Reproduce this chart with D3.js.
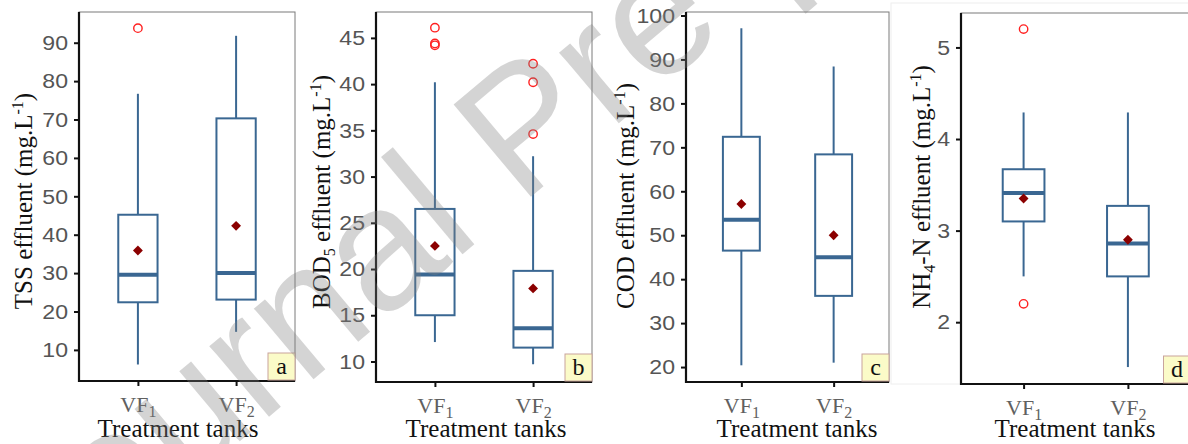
<!DOCTYPE html>
<html><head><meta charset="utf-8">
<script src="https://cdn.jsdelivr.net/npm/d3@7"></script>
<style>
html,body{margin:0;padding:0;background:#fff;}
svg{display:block;}
</style></head><body>
<svg id="chart" width="1188" height="444"></svg>
<script>
const tanks = ["VF1", "VF2"];

// box summaries per tank: [lower whisker, Q1, median, Q3, upper whisker]
const tssBox = [[6.2, 22.4, 29.6, 45.2, 76.7], [14.7, 23.1, 30.0, 70.3, 91.8]];
const tssMean = [35.9, 42.3];
const tssOutliers = [[93.8], []];
const tssTicks = [10, 20, 30, 40, 50, 60, 70, 80, 90];

const bodBox = [[12.1, 15.0, 19.4, 26.5, 40.2], [9.7, 11.5, 13.6, 19.8, 32.2]];
const bodMean = [22.5, 17.9];
const bodOutliers = [[46.1, 44.4, 44.2], [42.2, 40.2, 34.6]];
const bodTicks = [10, 15, 20, 25, 30, 35, 40, 45];

const codBox = [[20.4, 46.5, 53.5, 72.4, 97.1], [21.0, 36.2, 45.0, 68.4, 88.4]];
const codMean = [57.1, 50.0];
const codOutliers = [[], []];
const codTicks = [20, 30, 40, 50, 60, 70, 80, 90, 100];

const nh4Box = [[2.5, 3.1, 3.41, 3.67, 4.29], [1.51, 2.5, 2.86, 3.27, 4.29]];
const nh4Mean = [3.35, 2.9];
const nh4Outliers = [[5.2, 2.2], []];
const nh4Ticks = [2, 3, 4, 5];

const panelLetters = ["a", "b", "c", "d"];

// y-axis titles as runs of [text, style]
const yTitles = [
  [["TSS effluent (mg.L", "n"], ["-1", "sup"], [")", "n"]],
  [["BOD", "n"], ["5", "sub"], [" effluent (mg.L", "n"], ["-1", "sup"], [")", "n"]],
  [["COD effluent (mg.L", "n"], ["-1", "sup"], [")", "n"]],
  [["NH", "n"], ["4", "sub"], ["-N effluent (mg.L", "n"], ["-1", "sup"], [")", "n"]]
];
const xTitle = "Treatment tanks";

const panels = [
  {box: tssBox, mean: tssMean, out: tssOutliers, ticks: tssTicks, domain: [1.9, 98.0],
   left: 79, right: 295, top: 12, bottom: 381, titleX: 32, titleY: 201, xTitleX: 178},
  {box: bodBox, mean: bodMean, out: bodOutliers, ticks: bodTicks, domain: [7.78, 47.8],
   left: 376, right: 592, top: 12, bottom: 382, titleX: 330, titleY: 192, xTitleX: 486},
  {box: codBox, mean: codMean, out: codOutliers, ticks: codTicks, domain: [16.6, 100.8],
   left: 686, right: 889, top: 12, bottom: 382, titleX: 634, titleY: 196, xTitleX: 797},
  {box: nh4Box, mean: nh4Mean, out: nh4Outliers, ticks: nh4Ticks, domain: [1.325, 5.376],
   left: 961, right: 1190.5, top: 13, bottom: 384, titleX: 930, titleY: 187, xTitleX: 1075}
];

const BLUE = "#3a6792";
const SANS = "'Liberation Sans', Arial, sans-serif";
const SERIF = "'Liberation Serif', 'Times New Roman', serif";

const svg = d3.select("#chart");

// faint edge of the last tile
svg.append("rect").attr("x", 891).attr("y", 3).attr("width", 300).attr("height", 381)
  .attr("fill", "none").attr("stroke", "#eeeeee").attr("stroke-width", 1);

panels.forEach((p, i) => {
  const g = svg.append("g");
  const y = d3.scaleLinear().domain(p.domain).range([p.bottom, p.top]);
  const x = d3.scalePoint().domain(tanks).range([p.left, p.right]).padding(0.6);
  const step = x.step();
  const bw = step * 0.4;

  // panel frame (top/right)
  g.append("rect").attr("x", p.left).attr("y", p.top)
    .attr("width", p.right - p.left).attr("height", p.bottom - p.top)
    .attr("fill", "#fff").attr("stroke", "#7a7a7a").attr("stroke-width", 1);

  // whiskers, boxes, medians
  g.selectAll(".wh").data(p.box).join("g").each(function(b, k) {
    const cx = x(tanks[k]);
    const s = d3.select(this);
    s.append("line").attr("x1", cx).attr("x2", cx).attr("y1", y(b[3])).attr("y2", y(b[4]))
      .attr("stroke", BLUE).attr("stroke-width", 2);
    s.append("line").attr("x1", cx).attr("x2", cx).attr("y1", y(b[1])).attr("y2", y(b[0]))
      .attr("stroke", BLUE).attr("stroke-width", 2);
    s.append("rect").attr("x", cx - bw / 2).attr("y", y(b[3]))
      .attr("width", bw).attr("height", y(b[1]) - y(b[3]))
      .attr("fill", "#fff").attr("stroke", BLUE).attr("stroke-width", 2);
    s.append("line").attr("x1", cx - bw / 2).attr("x2", cx + bw / 2)
      .attr("y1", y(b[2])).attr("y2", y(b[2]))
      .attr("stroke", BLUE).attr("stroke-width", 4);
  });

  // outliers
  p.out.forEach((arr, k) => {
    g.selectAll(null).data(arr).join("circle")
      .attr("cx", x(tanks[k])).attr("cy", d => y(d)).attr("r", 4.2)
      .attr("fill", "none").attr("stroke", "#ff2020").attr("stroke-width", 1.4);
  });

  // means
  g.selectAll(".mean").data(p.mean).join("path")
    .attr("transform", (d, k) => `translate(${x(tanks[k])},${y(d)})`)
    .attr("d", d3.symbol(d3.symbolDiamond2, 62)())
    .attr("fill", "#8b0000");

  // y axis
  const ya = g.append("g").attr("transform", `translate(${p.left},0)`)
    .call(d3.axisLeft(y).tickValues(p.ticks).tickSize(5).tickPadding(6).tickFormat(d3.format("d")));
  ya.select(".domain").remove();
  ya.selectAll(".tick line").attr("stroke", "#111").attr("stroke-width", 2);
  ya.selectAll(".tick text").attr("fill", "#555").attr("font-size", 21).attr("font-family", SANS)
    .attr("x", -11 / 1.1).attr("transform", "scale(1.1,1)");

  // x axis
  const xa = g.append("g").attr("transform", `translate(0,${p.bottom})`)
    .call(d3.axisBottom(x).tickSize(5).tickFormat(""));
  xa.select(".domain").remove();
  xa.selectAll(".tick line").attr("stroke", "#111").attr("stroke-width", 2);
  xa.selectAll(".tick").append("text")
    .attr("y", 31).attr("text-anchor", "middle").attr("fill", "#606060")
    .attr("font-family", SERIF).attr("font-size", 22)
    .each(function(d) {
      const t = d3.select(this);
      t.append("tspan").text(d.slice(0, 2));
      t.append("tspan").attr("font-size", 16).attr("dy", 5).text(d.slice(2));
    });

  // axis lines
  g.append("line").attr("x1", p.left).attr("x2", p.left).attr("y1", p.top).attr("y2", p.bottom + 1)
    .attr("stroke", "#111").attr("stroke-width", 2.2);
  g.append("line").attr("x1", p.left - 1).attr("x2", p.right).attr("y1", p.bottom).attr("y2", p.bottom)
    .attr("stroke", "#111").attr("stroke-width", 2.2);

  // panel letter
  const lx = p.right - 27, ly = p.bottom - 28;
  g.append("rect").attr("x", lx).attr("y", ly).attr("width", 27).attr("height", 27)
    .attr("fill", "#fbfbc8").attr("stroke", "#c9a49c").attr("stroke-width", 1);
  g.append("text").attr("x", lx + 13.5).attr("y", ly + 21).attr("text-anchor", "middle")
    .attr("font-family", SERIF).attr("font-size", 24).attr("fill", "#111").text(panelLetters[i]);

  // y title
  const yt = g.append("text")
    .attr("transform", `translate(${p.titleX},${p.titleY}) rotate(-90)`)
    .attr("text-anchor", "middle").attr("font-family", SERIF).attr("font-size", 25).attr("fill", "#111");
  let shift = 0;
  yTitles[i].forEach(([txt, kind]) => {
    const ts = yt.append("tspan").text(txt);
    const target = kind === "sub" ? 5 : kind === "sup" ? -9 : 0;
    ts.attr("dy", target - shift);
    shift = target;
    if (kind !== "n") ts.attr("font-size", 16);
  });

  // x title
  g.append("text").attr("x", p.xTitleX).attr("y", 437)
    .attr("text-anchor", "middle").attr("font-family", SERIF).attr("font-size", 25)
    .attr("fill", "#111").text(xTitle);
});

// watermark
const wm = svg.append("g").attr("transform", "translate(520,206) rotate(-40)")
  .attr("font-family", SANS).attr("font-size", 175).attr("fill", "#808080").attr("opacity", 0.33);
wm.append("text").attr("text-anchor", "end").attr("x", -48).text("Journal");
wm.append("text").attr("text-anchor", "start").attr("x", 0).text("Pre-proof");
</script>
</body></html>
